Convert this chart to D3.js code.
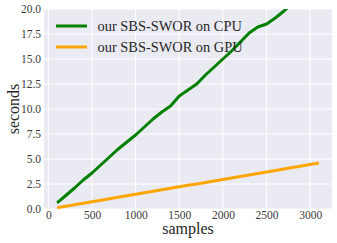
<!DOCTYPE html>
<html><head><meta charset="utf-8">
<script src="https://cdn.jsdelivr.net/npm/d3@7"></script>
<style>
html,body{margin:0;padding:0;background:#fff;}
svg{display:block;}
</style></head>
<body><svg id="c" width="337" height="243"></svg>
<script>
const samples = [100,200,300,400,500,600,700,800,900,1000,1100,1200,1300,1400,1500,1600,1700,1800,1900,2000,2100,2200,2300,2400,2500,2600,2700,2800,2900,3000,3100];
const cpuSeconds = [0.62,1.35,2.1,2.9,3.6,4.4,5.2,6.0,6.7,7.4,8.2,9.0,9.7,10.3,11.3,11.9,12.5,13.4,14.2,15.0,15.8,16.7,17.6,18.2,18.5,19.1,19.8,20.6,21.4,22.2,23.0];
const gpuSeconds = [0.13,0.28,0.43,0.58,0.72,0.87,1.02,1.17,1.32,1.47,1.62,1.77,1.92,2.07,2.22,2.37,2.51,2.66,2.81,2.96,3.11,3.26,3.41,3.56,3.71,3.86,4.01,4.16,4.3,4.45,4.6];
const seriesNames = ["our SBS-SWOR on CPU","our SBS-SWOR on GPU"];
const seriesColors = ["#008000","#FFA500"];
const xTicks = [0,500,1000,1500,2000,2500,3000];
const yTicks = [0,2.5,5,7.5,10,12.5,15,17.5,20];

const FONT = '"Liberation Serif","Times New Roman",serif';
const svg = d3.select("#c");
const L=44, T=9, R=332, B=209;
const x = d3.scaleLinear().domain([-50,3250]).range([L,R]);
const y = d3.scaleLinear().domain([0,20]).range([B,T]);

svg.append("rect").attr("x",L).attr("y",T).attr("width",R-L).attr("height",B-T).attr("fill","#EAEAF2");
svg.append("clipPath").attr("id","clip").append("rect").attr("x",L).attr("y",T).attr("width",R-L).attr("height",B-T);

svg.append("g").selectAll("line").data(xTicks).join("line")
  .attr("x1",d=>x(d)).attr("x2",d=>x(d)).attr("y1",T).attr("y2",B)
  .attr("stroke","#fff").attr("stroke-width",1);
svg.append("g").selectAll("line").data(yTicks).join("line")
  .attr("x1",L).attr("x2",R).attr("y1",d=>y(d)).attr("y2",d=>y(d))
  .attr("stroke","#fff").attr("stroke-width",1);

const xAxis = svg.append("g").attr("transform",`translate(0,${B})`)
  .call(d3.axisBottom(x).tickValues(xTicks).tickSize(0).tickPadding(2).tickFormat(d3.format("d")));
xAxis.select(".domain").remove();
xAxis.selectAll("text").style("font-family",FONT).style("font-size","11.5px").attr("fill","#3a3a3a");

const yAxis = svg.append("g").attr("transform",`translate(${L},0)`)
  .call(d3.axisLeft(y).tickValues(yTicks).tickSize(0).tickPadding(3).tickFormat(d3.format(".1f")));
yAxis.select(".domain").remove();
yAxis.selectAll("text").style("font-family",FONT).style("font-size","11.5px").attr("fill","#3a3a3a");

const line = d3.line().x((d,i)=>x(samples[i])).y(d=>y(d));
const g = svg.append("g").attr("clip-path","url(#clip)");
[cpuSeconds,gpuSeconds].forEach((s,i)=>{
  g.append("path").attr("d",line(s)).attr("fill","none")
   .attr("stroke",seriesColors[i]).attr("stroke-width",3).attr("stroke-linejoin","round").attr("stroke-linecap","butt");
});

const leg = svg.append("g");
seriesNames.forEach((n,i)=>{
  const yy = 26 + i*21;
  leg.append("line").attr("x1",56).attr("x2",87).attr("y1",yy).attr("y2",yy)
    .attr("stroke",seriesColors[i]).attr("stroke-width",3);
  leg.append("text").attr("x",97.5).attr("y",yy+5).style("font-family",FONT).style("font-size","14.4px").attr("fill","#262626").text(n);
});

svg.append("text").attr("x",(L+R)/2).attr("y",234).attr("text-anchor","middle")
  .style("font-family",FONT).style("font-size","16px").attr("fill","#262626").text("samples");
svg.append("text").attr("transform",`translate(19,${(T+B)/2}) rotate(-90)`).attr("text-anchor","middle")
  .style("font-family",FONT).style("font-size","16px").attr("fill","#262626").text("seconds");
</script></body></html>
